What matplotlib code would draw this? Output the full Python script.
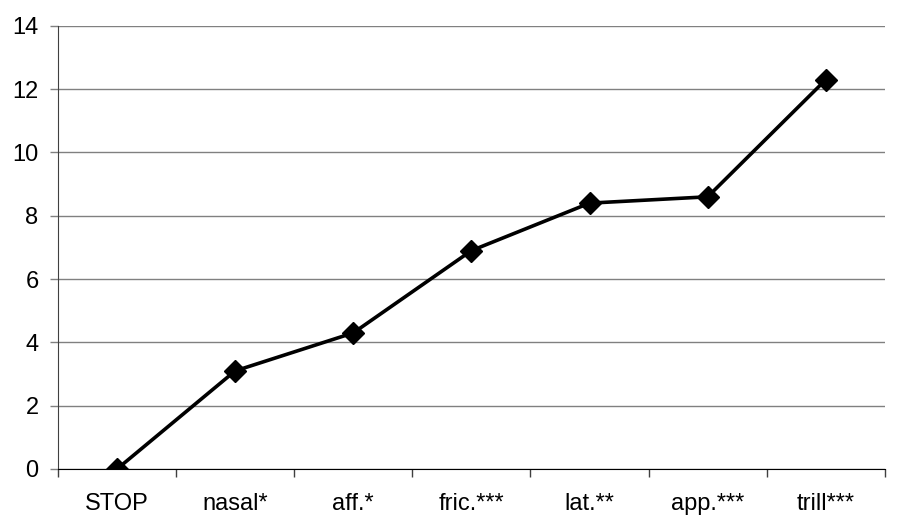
import numpy as np
import matplotlib
matplotlib.use('Agg')
import matplotlib.pyplot as plt

# data
categories = ['STOP', 'nasal*', 'aff.*', 'fric.***', 'lat.**', 'app.***', 'trill***']
values = [0.0, 3.1, 4.3, 6.9, 8.4, 8.6, 12.3]
yticks = [0, 2, 4, 6, 8, 10, 12, 14]

plt.rcParams['font.family'] = ['Liberation Sans', 'DejaVu Sans']

fig = plt.figure(figsize=(9.16, 5.18), dpi=100)
ax = fig.add_axes([0.0633, 0.0946, 0.9027, 0.8554])

x = np.arange(len(categories))
ax.plot(x, values, color='black', lw=2.6, marker='D', ms=11, zorder=3)

ax.set_xlim(-0.5, len(categories) - 0.5)
ax.set_ylim(0, 14)
ax.set_yticks(yticks)
ax.set_xticks(x)
ax.set_xticklabels(categories)
ax.set_xticks(np.arange(len(categories) + 1) - 0.5, minor=True)

ax.yaxis.grid(True, color='#808080', lw=1)
ax.set_axisbelow(True)
for s in ['top', 'right']:
    ax.spines[s].set_visible(False)
ax.spines['left'].set_color('#404040')
ax.spines['bottom'].set_color('black')

ax.tick_params(axis='y', length=6, width=1, color='#808080', pad=8, labelsize=17)
ax.tick_params(axis='x', which='major', length=0, pad=17, labelsize=17)
ax.tick_params(axis='x', which='minor', length=6, width=1, color='#404040')

fig.savefig('out.png', dpi=100)
